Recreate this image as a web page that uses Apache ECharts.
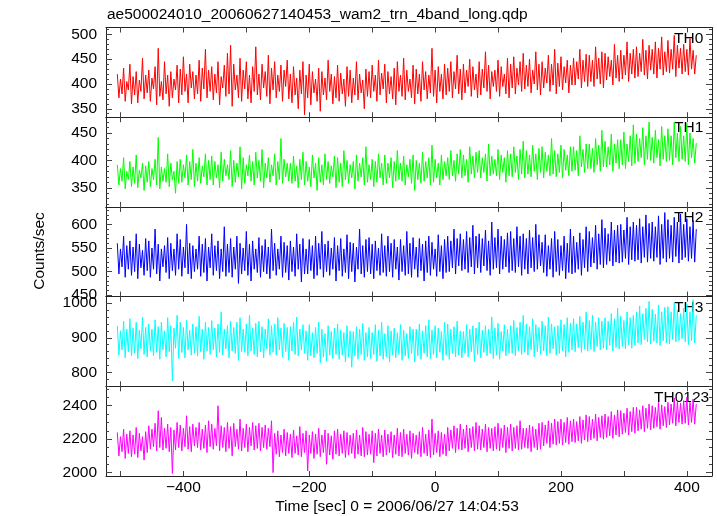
<!DOCTYPE html>
<html><head><meta charset="utf-8">
<script src="https://cdn.jsdelivr.net/npm/echarts@6.0.0/dist/echarts.min.js"></script>
<style>html,body{margin:0;padding:0;background:#fff}#c{width:717px;height:516px}</style>
</head><body><div id="c"></div>
<script>
const chartTitle = 'ae500024010_20060627140453_wam2_trn_4band_long.qdp';
const xAxisName = 'Time [sec] 0 = 2006/06/27 14:04:53';
const yAxisName = 'Counts/sec';
const bandNames = ['TH0', 'TH1', 'TH2', 'TH3', 'TH0123'];
// one sample every 2.5 s starting at -505 s
const timeStart = -505;
const timeStep = 2.5;

const th0 = [
420,372,410,380,432,365,405,388,440,360,
415,378,425,362,408,385,452,370,418,382,
428,365,412,390,435,358,472,375,405,368,
445,380,418,355,425,372,410,388,438,362,
430,378,455,385,420,362,440,392,425,370,
418,380,448,365,432,390,470,372,428,385,
435,368,420,382,445,358,415,392,438,375,
462,380,478,355,440,388,418,372,452,365,
428,390,445,370,418,362,435,385,475,378,
420,368,440,392,425,375,458,360,432,388,
445,372,418,385,438,365,428,395,448,370,
420,362,435,378,412,350,428,380,445,338,
418,372,440,358,425,382,410,365,432,345,
425,378,412,368,448,385,420,360,415,372,
438,365,422,380,410,355,435,375,428,362,
412,378,445,368,420,382,408,350,430,375,
425,372,438,385,418,365,448,378,422,390,
440,362,425,380,415,370,432,358,445,385,
418,375,452,368,428,385,410,372,438,360,
430,380,420,365,445,388,425,370,418,382,
472,375,428,362,435,385,420,370,440,378,
432,385,445,372,425,390,458,380,430,368,
440,382,428,395,450,375,435,388,420,372,
445,378,430,392,465,385,438,370,425,395,
428,385,448,375,435,395,420,380,452,372,
440,392,455,380,432,398,445,385,462,390,
438,395,450,382,428,400,465,388,440,378,
445,392,432,402,458,385,440,398,470,380,
442,395,455,388,435,402,448,382,438,398,
452,398,445,410,470,392,448,405,460,395,
458,405,448,395,475,410,452,400,465,392,
462,408,455,415,448,398,480,412,458,405,
468,410,458,418,485,405,462,420,470,412,
475,415,462,425,490,418,468,410,478,428,
470,420,485,412,472,430,495,418,465,425,
488,422,470,430,498,415,478,432,472,420,
480,425,470,418,492,430,468,420,458];

const th1 = [
392,355,385,362,405,348,380,365,398,352,
388,358,410,350,382,368,395,345,390,360,
398,352,385,365,402,355,442,348,388,362,
385,360,412,352,395,365,380,340,398,358,
402,360,392,368,410,355,398,365,420,352,
395,362,405,358,390,370,412,355,400,365,
408,355,398,368,392,350,415,362,402,372,
392,365,418,352,400,360,395,370,425,348,
405,358,392,372,410,362,398,355,415,368,
400,362,420,350,395,368,405,360,392,372,
412,355,398,365,440,358,402,370,395,362,
395,358,408,362,390,350,402,365,415,355,
398,362,388,352,410,368,395,345,405,360,
392,355,412,365,398,358,390,370,408,350,
405,360,395,352,418,365,400,358,392,368,
398,348,410,362,395,370,405,355,425,360,
392,365,402,352,398,360,412,368,395,355,
410,358,395,368,405,350,398,362,418,365,
395,362,408,355,392,370,402,358,410,345,
400,365,395,358,415,362,398,368,405,355,
428,360,402,368,395,355,410,365,398,372,
405,365,418,372,400,362,412,375,420,368,
410,372,402,360,425,375,408,368,415,378,
418,368,405,378,412,362,430,372,408,375,
402,372,420,365,410,378,405,360,418,372,
412,370,425,378,408,365,420,375,435,368,
418,375,410,370,428,380,412,365,422,378,
425,368,415,380,410,372,440,375,418,370,
412,378,428,368,420,382,410,372,425,380,
425,382,418,372,445,388,420,378,430,385,
430,385,422,378,440,392,428,380,455,388,
435,388,425,392,448,380,430,395,438,385,
438,392,452,385,430,398,445,390,465,395,
448,398,440,405,460,392,445,402,470,400,
442,395,455,405,438,390,462,402,445,398,
458,400,445,392,470,405,450,398,462,402,
445,398,468,392,450,405,440,395,432];

const th2 = [
560,495,548,510,575,488,555,505,565,492,
552,500,580,485,558,508,545,492,570,502,
565,488,550,505,590,495,558,480,548,510,
555,498,572,485,560,502,548,492,580,505,
568,490,552,508,600,495,560,485,555,500,
548,505,575,490,558,498,570,480,552,508,
580,492,555,502,565,485,548,500,595,490,
558,498,570,488,552,505,575,475,560,495,
550,502,585,492,558,480,565,505,548,498,
572,488,555,500,568,495,552,485,590,502,
560,492,548,505,575,488,562,498,555,482,
565,500,552,490,580,505,558,478,570,495,
548,495,568,502,555,485,575,492,560,505,
585,488,558,500,565,492,550,505,572,480,
555,502,570,490,548,498,578,485,562,500,
560,478,552,505,590,495,555,488,568,500,
572,495,558,485,565,502,550,492,580,498,
555,490,575,500,560,488,568,505,552,482,
568,500,555,492,585,495,560,488,572,505,
552,488,570,502,558,480,565,498,575,492,
562,505,548,490,578,500,555,485,568,498,
575,500,565,508,590,495,570,512,580,502,
568,505,585,498,572,510,598,495,575,508,
580,498,570,512,588,502,565,492,605,505,
572,508,590,495,575,505,568,510,582,498,
585,502,570,498,595,510,575,492,580,505,
570,495,588,508,572,500,600,505,578,512,
562,498,578,490,555,505,570,488,585,500,
568,492,555,502,575,485,560,498,590,495,
575,498,562,505,582,492,568,508,595,500,
585,510,572,518,598,505,580,515,610,508,
592,515,580,522,605,512,588,520,598,518,
600,520,588,528,615,515,595,525,605,522,
598,525,612,518,595,530,620,520,602,528,
605,522,595,530,618,515,600,528,625,520,
610,528,598,520,615,532,605,518,622,525,
600,530,612,522,595,528,608,520,590];

const th3 = [
935,850,920,865,948,842,925,860,955,848,
928,855,945,840,922,868,960,852,930,845,
940,862,925,848,952,858,932,838,945,865,
920,845,958,860,935,775,928,870,965,840,
945,858,930,842,950,865,922,850,940,855,
932,848,962,860,925,838,945,862,930,852,
950,865,928,845,940,858,975,850,925,868,
935,842,948,862,930,855,945,835,958,860,
925,858,940,848,965,862,928,852,942,845,
948,860,932,842,925,868,955,850,935,858,
940,850,958,865,928,845,942,860,930,835,
932,862,945,852,960,848,925,865,938,855,
920,835,938,848,915,842,930,855,945,828,
925,845,912,832,935,850,918,840,928,852,
940,838,922,850,915,830,935,845,920,815,
918,848,932,838,925,852,942,835,915,845,
930,840,915,852,938,832,922,848,945,838,
912,845,935,830,920,850,928,842,915,852,
938,835,922,848,912,840,932,855,925,830,
925,848,940,838,920,855,935,845,952,840,
922,852,935,842,928,858,918,835,945,850,
940,838,925,855,932,845,948,850,920,842,
918,855,938,845,925,860,935,832,928,852,
945,842,922,858,935,848,925,855,960,840,
928,850,942,838,918,862,938,848,925,855,
935,855,950,848,930,862,945,852,965,858,
940,850,932,865,955,845,938,860,930,852,
948,862,935,848,960,855,940,868,932,850,
935,855,952,862,938,845,958,858,942,865,
955,860,940,872,962,858,945,868,975,862,
950,868,965,860,945,875,958,865,948,870,
958,865,948,878,970,862,955,872,985,868,
962,875,950,868,975,880,958,870,965,878,
975,885,992,880,970,895,985,888,1005,882,
982,890,968,885,995,878,975,892,988,885,
990,882,975,895,1002,888,980,892,970,898,
985,888,998,880,975,892,1010,885,965];

const th0123 = [
2240,2100,2215,2125,2260,2085,2230,2115,2250,2095,
2225,2110,2270,2090,2235,2130,2215,2075,2245,2120,
2280,2140,2260,2155,2295,2130,2370,2150,2330,2135,
2265,2145,2290,2125,2270,1995,2255,2135,2300,2150,
2285,2130,2265,2155,2340,2140,2275,2125,2290,2160,
2270,2150,2300,2135,2260,2145,2285,2120,2310,2155,
2290,2140,2265,2160,2400,2130,2280,2150,2270,2125,
2300,2145,2275,2100,2295,2155,2260,2140,2320,2130,
2265,2150,2290,2125,2270,2160,2300,2135,2280,2145,
2295,2130,2270,2150,2285,2140,2265,2155,2310,2000,
2235,2110,2250,2095,2225,2120,2260,2100,2240,2115,
2230,2090,2255,2115,2220,2105,2275,2095,2235,2120,
2250,2010,2225,2115,2245,2085,2230,2110,2265,2095,
2225,2120,2255,2050,2235,2105,2220,2080,2250,2110,
2260,2100,2230,2115,2250,2090,2240,2105,2225,2115,
2235,2085,2255,2110,2225,2100,2270,2095,2245,2105,
2230,2110,2250,2060,2235,2100,2260,2115,2225,2095,
2255,2105,2230,2120,2245,2090,2225,2110,2265,2100,
2240,2095,2260,2115,2230,2105,2250,2085,2235,2120,
2225,2110,2245,2095,2270,2115,2230,2100,2255,2090,
2320,2105,2235,2120,2250,2095,2240,2110,2230,2100,
2270,2130,2255,2145,2280,2120,2265,2140,2290,2135,
2260,2145,2285,2125,2265,2150,2275,2130,2300,2140,
2280,2135,2260,2150,2290,2125,2270,2145,2265,2130,
2275,2140,2295,2130,2265,2150,2285,2120,2270,2145,
2290,2130,2270,2145,2280,2135,2310,2140,2265,2150,
2265,2145,2285,2125,2275,2150,2260,2135,2295,2140,
2300,2160,2285,2175,2310,2150,2295,2170,2320,2165,
2305,2175,2320,2165,2300,2180,2330,2170,2310,2185,
2320,2180,2305,2190,2335,2175,2315,2195,2345,2185,
2335,2195,2320,2205,2350,2190,2330,2210,2340,2200,
2350,2210,2335,2220,2365,2205,2345,2225,2375,2215,
2370,2230,2355,2240,2385,2225,2365,2245,2390,2235,
2390,2250,2375,2260,2400,2245,2385,2265,2410,2255,
2400,2265,2390,2275,2420,2260,2405,2280,2395,2270,
2420,2285,2410,2295,2445,2280,2425,2300,2415,2290,
2430,2295,2450,2285,2420,2300,2440,2290,2410];

const xRange = [-523, 440];
const xTickValues = [-500, -400, -300, -200, -100, 0, 100, 200, 300, 400];
const xLabelValues = [-400, -200, 0, 200, 400];
const yRanges = [[333, 514], [315, 479], [447, 637], [760, 1019], [1980, 2516]];
const yLabelValues = [[350, 400, 450, 500], [350, 400, 450], [450, 500, 550, 600], [800, 900, 1000], [2000, 2200, 2400]];
const yMinorSteps = [10, 10, 10, 20, 50];

const seriesValues = [th0, th1, th2, th3, th0123];
const colors = ['#ff0000', '#00ff00', '#0000ff', '#00ffff', '#ff00ff'];

const FONT = '"Liberation Sans", Arial, Helvetica, sans-serif';
const FS = 15.5;
const PLOT_LEFT = 106, PLOT_W = 606, PANEL_TOP = 27.5, PANEL_H = 89.7;
const frameColor = '#222';
const tickColor = '#444';

function fmtX(v) { return v < 0 ? '\u2212' + (-v) : String(v); }
function fmtY(v) { return String(v); }
function minorTicks(r, step) {
  const out = [];
  for (let v = Math.ceil(r[0] / step) * step; v <= r[1]; v += step) out.push(v);
  return out;
}

const grids = [], xAxes = [], yAxes = [], series = [], graphics = [];
for (let i = 0; i < 5; i++) {
  const top = PANEL_TOP + i * PANEL_H;
  grids.push({ left: PLOT_LEFT, width: PLOT_W, top: top, height: PANEL_H, containLabel: false, outerBoundsMode: 'none' });
  const baseX = {
    gridIndex: i, type: 'value', min: xRange[0], max: xRange[1],
    splitLine: { show: false },
    axisLine: { show: true, onZero: false, lineStyle: { color: frameColor, width: 1 } },
    axisTick: { show: true, inside: true, length: 5, customValues: xTickValues, lineStyle: { color: tickColor, width: 1 } }
  };
  xAxes.push(Object.assign({}, baseX, {
    position: 'bottom',
    axisLabel: i === 4 ? { show: true, customValues: xLabelValues, formatter: fmtX, color: '#000', fontSize: FS, fontFamily: FONT, margin: 4 } : { show: false }
  }));
  xAxes.push(Object.assign({}, baseX, { position: 'top', axisLabel: { show: false } }));

  const r = yRanges[i];
  const minors = minorTicks(r, yMinorSteps[i]).filter(v => yLabelValues[i].indexOf(v) < 0);
  const mk = (pos, major) => ({
    gridIndex: i, type: 'value', min: r[0], max: r[1], position: pos,
    splitLine: { show: false },
    axisLine: { show: major, onZero: false, lineStyle: { color: frameColor, width: 1 } },
    axisTick: { show: true, inside: true, length: major ? 6 : 3, customValues: major ? yLabelValues[i] : minors, lineStyle: { color: tickColor, width: 1 } },
    axisLabel: (major && pos === 'left') ? { show: true, customValues: yLabelValues[i], formatter: fmtY, color: '#000', fontSize: FS, fontFamily: FONT, margin: 9 } : { show: false }
  });
  yAxes.push(mk('left', true), mk('left', false), mk('right', true), mk('right', false));

  series.push({
    type: 'line', xAxisIndex: 2 * i, yAxisIndex: 4 * i,
    data: seriesValues[i].map((v, k) => [timeStart + k * timeStep, v]),
    showSymbol: false, symbol: 'none', silent: true, sampling: null,
    lineStyle: { color: colors[i], width: 1 },
    itemStyle: { color: colors[i] }
  });

  graphics.push({
    type: 'text', x: i === 4 ? 654 : 674, y: top + 11,
    style: { text: bandNames[i], fill: '#000', font: FS + 'px ' + FONT, align: 'left', verticalAlign: 'middle' }
  });
}

graphics.push({ type: 'text', x: 107, y: 15, style: { text: chartTitle, fill: '#000', font: FS + 'px ' + FONT, align: 'left', verticalAlign: 'middle' } });
graphics.push({ type: 'text', x: 397, y: 507, style: { text: xAxisName, fill: '#000', font: FS + 'px ' + FONT, align: 'center', verticalAlign: 'middle' } });
graphics.push({ type: 'text', x: 40, y: 251, rotation: Math.PI / 2, style: { text: yAxisName, fill: '#000', font: FS + 'px ' + FONT, align: 'center', verticalAlign: 'middle' } });

const chart = echarts.init(document.getElementById('c'), null, { renderer: 'canvas' });
chart.setOption({
  animation: false,
  backgroundColor: '#fff',
  grid: grids,
  xAxis: xAxes,
  yAxis: yAxes,
  series: series,
  graphic: graphics
});
</script>
</body></html>
